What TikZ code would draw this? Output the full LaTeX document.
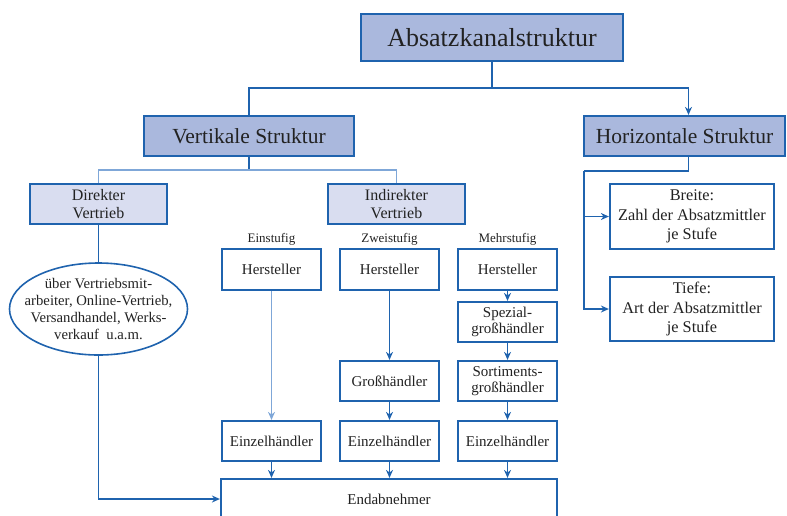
\documentclass[tikz,border=0pt]{standalone}
\usepackage{fontspec}
\setmainfont{Liberation Serif}
\usetikzlibrary{arrows.meta,shapes.geometric}
\definecolor{lineblue}{HTML}{1F63AE}
\definecolor{lightline}{HTML}{7FA7D8}
\definecolor{darkfill}{HTML}{AAB8DD}
\definecolor{lightfill}{HTML}{D9DDF0}
\definecolor{txt}{HTML}{222222}
\tikzset{
  box/.style={draw=lineblue, line width=2.2pt, text=txt, inner sep=0pt, align=center},
  topbox/.style={box, fill=darkfill, font=\rmfamily\fontsize{21.5}{24}\selectfont},
  midbox/.style={box, fill=lightfill, font=\rmfamily\fontsize{16}{18.5}\selectfont},
  chainbox/.style={box, fill=white, minimum width=99pt, font=\rmfamily\fontsize{15}{16.7}\selectfont},
  conn/.style={draw=lineblue, line width=1.8pt},
  thinconn/.style={draw=lightline, line width=1.4pt},
  arr/.style={-{Stealth[length=8pt,width=7pt]}},
  steplabel/.style={text=txt, font=\rmfamily\fontsize{13}{15}\selectfont, inner sep=0pt}
}
\begin{document}
\begin{tikzpicture}[x=1pt,y=-1pt]
\useasboundingbox (0,0) rectangle (787,515);
\clip (0,0) rectangle (787,515);
% top level
\node[topbox, minimum width=262pt, minimum height=47pt, font=\rmfamily\fontsize{26}{30}\selectfont] (abs) at (492,37.5) {Absatzkanalstruktur};
\node[topbox, minimum width=210pt, minimum height=40pt] (vert) at (249,136) {Vertikale Struktur};
\node[topbox, minimum width=201pt, minimum height=40pt] (horiz) at (684.5,136) {Horizontale Struktur};
% second level
\node[midbox, minimum width=137pt, minimum height=40pt] (dir) at (98.5,204) {Direkter\\Vertrieb};
\node[midbox, minimum width=137pt, minimum height=40pt] (ind) at (396.5,204) {Indirekter\\Vertrieb};
\node[box, fill=white, minimum width=164pt, minimum height=65pt, font=\rmfamily\fontsize{16.3}{19.3}\selectfont] (breite) at (692,216.5) {Breite:\\Zahl der Absatzmittler\\je Stufe};
\node[box, fill=white, minimum width=164pt, minimum height=64pt, font=\rmfamily\fontsize{16.3}{19.3}\selectfont] (tiefe) at (692,309) {Tiefe:\\Art der Absatzmittler\\je Stufe};
% ellipse
\node[ellipse, draw=lineblue, line width=1.6pt, text=txt, minimum width=178pt, minimum height=92pt, inner xsep=-16pt, inner ysep=-6pt, align=center, font=\rmfamily\fontsize{14.7}{17}\selectfont] (ell) at (98.5,309) {über Vertriebsmit-\\arbeiter, Online-Vertrieb,\\Versandhandel, Werks-\\verkauf\ \ u.a.m.};
% step labels
\node[steplabel] (l1) at (271.5,239) {Einstufig};
\node[steplabel] (l2) at (389.5,239) {Zweistufig};
\node[steplabel] (l3) at (507.5,239) {Mehrstufig};
% column 1
\node[chainbox, minimum height=41pt] (h1) at (271.5,269.5) {Hersteller};
\node[chainbox, minimum height=40pt] (e1) at (271.5,441) {Einzelhändler};
% column 2
\node[chainbox, minimum height=41pt] (h2) at (389.5,269.5) {Hersteller};
\node[chainbox, minimum height=40pt] (g2) at (389.5,381) {Großhändler};
\node[chainbox, minimum height=40pt] (e2) at (389.5,441) {Einzelhändler};
% column 3
\node[chainbox, minimum height=41pt] (h3) at (507.5,269.5) {Hersteller};
\node[chainbox, minimum height=40pt] (s3) at (507.5,322) {Spezial-\\großhändler};
\node[chainbox, minimum height=40pt] (t3) at (507.5,381) {Sortiments-\\großhändler};
\node[chainbox, minimum height=40pt] (e3) at (507.5,441) {Einzelhändler};
% end customer
\node[box, fill=white, minimum width=336pt, minimum height=40pt, font=\rmfamily\fontsize{15}{17}\selectfont] (endab) at (389,499) {Endabnehmer};
% connectors top
\coordinate (j1) at (492,88);
\draw[conn] (abs.south) -- (j1);
\draw[conn] (j1) -| (vert.north);
\draw[conn, arr] (j1) -| ([xshift=4pt]horiz.north);
% vertical structure branches
\coordinate (j2) at (249,170);
\draw[conn] (vert.south) -- (j2);
\draw[thinconn] (dir.north) |- (j2) -| (ind.north);
% horizontal structure branches
\coordinate (hx) at (584,171);
\draw[conn] ([xshift=4pt]horiz.south) |- (hx);
\draw[conn, arr] (hx) |- (breite.west);
\draw[conn, arr] (hx) |- (tiefe.west);
% direct sales
\draw[conn] (dir.south) -- (ell.north);
\draw[conn, arr] (ell.south) |- (endab.west);
% chains
\draw[thinconn, arr] (h1) -- (e1);
\draw[conn, arr] (h2) -- (g2);
\draw[conn, arr] (g2) -- (e2);
\draw[conn, arr] (h3) -- (s3);
\draw[conn, arr] (s3) -- (t3);
\draw[conn, arr] (t3) -- (e3);
\draw[conn, arr] (e1.south) -- (e1.south |- endab.north);
\draw[conn, arr] (e2.south) -- (e2.south |- endab.north);
\draw[conn, arr] (e3.south) -- (e3.south |- endab.north);
\end{tikzpicture}
\end{document}
